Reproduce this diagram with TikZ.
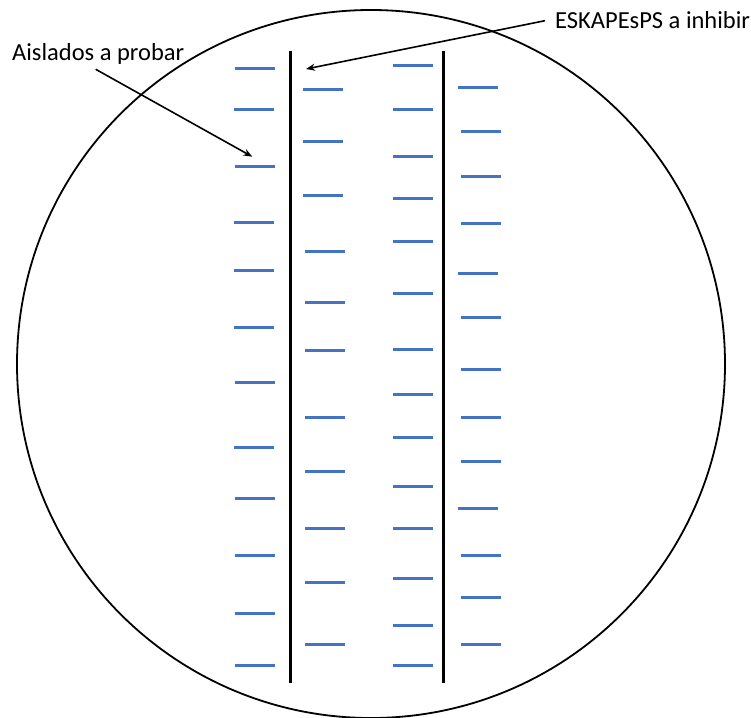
\documentclass[tikz,border=0pt]{standalone}
\usepackage{fontspec}
\setmainfont{Carlito}
\usetikzlibrary{arrows.meta}
\definecolor{dashblue}{HTML}{4472C4}
\begin{document}
\begin{tikzpicture}[x=1pt,y=-1pt,
  band/.style={line width=3pt,dashblue},
  lane/.style={line width=3pt,black},
  plate/.style={line width=1.8pt,black},
  pointer/.style={line width=1.6pt,black,-{Stealth[length=9pt,width=7pt]}},
  label/.style={font=\fontsize{24.5}{28}\selectfont,inner sep=0pt,anchor=base west}]
\useasboundingbox (0,0) rectangle (751,717);
\draw[plate] (371,364) circle[radius=354];
\draw[lane] (290.3,50.7) -- (290.3,683);
\draw[lane] (443.3,50.7) -- (443.3,683);
% column A
\foreach \x/\y in {235/68.7,234/109.3,235/166,234/222.7,234/270.7,234/327.3,235/382.7,234/447,235/498.7,235/555.3,235/613.3,235/665}
  \draw[band] (\x,\y) -- ++(40,0);
% column B
\foreach \x/\y in {303/89.7,303/141.3,303/195.7,305/251,305/302.7,305/350.7,305/417.3,305/471.3,305/528.3,305/582.3,305/644}
  \draw[band] (\x,\y) -- ++(40,0);
% column C
\foreach \y in {65,109.3,156.3,198,241.3,293,349.7,394,437,486.3,528.3,578.7,625.7,665}
  \draw[band] (392.7,\y) -- ++(40,0);
% column D
\foreach \x/\y in {458.3/87.3,460.7/131.3,460.7/176,460.7/223.7,458.3/273.3,460.7/317.3,460.7/369.3,460.7/417.3,460.7/461.7,458.3/508.3,460.7/555.3,460.7/597.3,460.7/644}
  \draw[band] (\x,\y) -- ++(40,0);
\node[label] (aislados) at (12,60) {Aislados a probar};
\node[label] (eskape) at (555,28.3) {ESKAPEsPS a inhibir};
\coordinate (aisladosTail) at (95.7,69.3);
\coordinate (aisladosTip) at (252.3,156.7);
\coordinate (eskapeTail) at (545,20.7);
\coordinate (eskapeTip) at (306,69);
\draw[pointer] (aisladosTail) -- (aisladosTip);
\draw[pointer] (eskapeTail) -- (eskapeTip);
\end{tikzpicture}
\end{document}
